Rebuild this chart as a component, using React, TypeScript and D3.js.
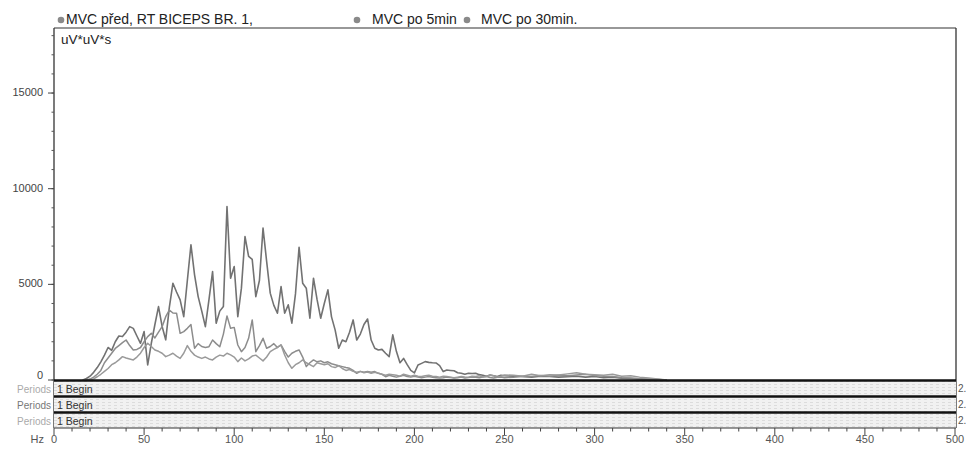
import React from "react";
import * as d3 from "d3";

const freqs: number[] = [
  16, 18, 20, 22, 24, 26, 28, 30, 32, 34, 36, 38, 40, 42, 44, 46, 48, 50, 52, 54,
  56, 58, 60, 62, 64, 66, 68, 70, 72, 74, 76, 78, 80, 82, 84, 86, 88, 90, 92, 94,
  96, 98, 100, 102, 104, 106, 108, 110, 112, 114, 116, 118, 120, 122, 124, 126, 128, 130, 132, 134,
  136, 138, 140, 142, 144, 146, 148, 150, 152, 154, 156, 158, 160, 162, 164, 166, 168, 170, 172, 174,
  176, 178, 180, 182, 184, 186, 188, 190, 192, 194, 196, 198, 200, 202, 204, 206, 208, 210, 212, 214,
  216, 218, 220, 222, 224, 226, 228, 230, 232, 234, 236, 238, 240, 242, 244, 246, 248, 250,
  255, 260, 265, 270, 275, 280, 285, 290, 295, 300, 305, 310, 315, 320, 325, 330, 335, 340,
];

const mvcPred: number[] = [
  0, 80, 200, 400, 650, 950, 1300, 1700, 1550, 2000, 2300, 2270, 2500, 2790, 2700, 2300, 1920, 2530, 785, 1920,
  2900, 3840, 2800, 2100, 3800, 5060, 4600, 4190, 3310, 5200, 7070, 5500, 4360, 3600, 2790, 4200, 5670, 2970, 3600, 3840,
  9070, 5320, 5930, 3310, 4800, 7500, 6460, 6300, 4360, 5200, 7940, 6200, 4540, 3900, 3490, 4880, 3490, 3930, 2970, 4500,
  6940, 5060, 4800, 3230, 5320, 4200, 3230, 4000, 4710, 3300, 2620, 1660, 2090, 2000, 2500, 3140, 2090, 2400, 2900, 3190,
  2090, 1660, 1570, 1600, 1400, 1220, 2360, 1500, 900, 1130, 800, 500, 370, 785, 870, 960, 920, 900, 890, 750,
  440, 520, 500, 480, 380, 350, 300, 350, 340, 350, 280, 250, 200, 260, 220, 180, 250, 220,
  200, 180, 150, 200, 180, 150, 170, 200, 150, 180, 120, 150, 100, 80, 60, 40, 20, 0,
];

const mvc5: number[] = [
  0, 0, 50, 150, 300, 500, 900, 1150, 1400, 1650, 1800, 1950, 2090, 1800, 1570, 1600, 1700, 2000, 2270, 2440,
  2200, 2500, 2790, 3310, 3660, 3500, 3490, 2440, 2530, 2700, 2900, 1660, 1900, 1750, 1700, 1740, 2090, 1900, 1740, 2400,
  3350, 2700, 2750, 1830, 1480, 1700, 2180, 3140, 1480, 1800, 2180, 1660, 1750, 1900, 1700, 1830, 1500, 1200, 1400, 1500,
  1570, 1200, 700, 900, 1050, 950, 1000, 900, 950, 850, 800, 750, 700, 650, 610, 500, 350, 450, 400, 450,
  400, 440, 350, 300, 170, 250, 200, 150, 200, 250, 180, 150, 200, 150, 120, 150, 180, 140, 120, 100,
  120, 150, 130, 100, 120, 150, 110, 130, 160, 140, 120, 150, 180, 130, 110, 140, 160, 120,
  150, 200, 180, 230, 200, 250, 220, 260, 300, 240, 200, 180, 120, 100, 70, 40, 20, 0,
];

const mvc30: number[] = [
  0, 0, 0, 60, 170, 300, 450, 600, 800, 900, 1050, 1220, 1150, 1100, 1050, 1200, 1400, 1700, 1920, 1750,
  1570, 1500, 1400, 1220, 1300, 1400, 1250, 1130, 1400, 1800, 1500, 1300, 1200, 1130, 1200, 1100, 1050, 1200, 1300, 1250,
  1400, 1310, 1200, 960, 1150, 1000, 1100, 1250, 1300, 1150, 1000, 1200, 1480, 1600, 1700, 1830, 1310, 900, 610, 800,
  900, 1050, 900, 800, 700, 900, 850, 800, 850, 700, 650, 750, 600, 500, 550, 450, 400, 450, 380, 420,
  350, 400, 350, 300, 250, 300, 280, 250, 200, 300, 250, 200, 250, 200, 180, 220, 250, 200, 180, 150,
  200, 180, 150, 120, 150, 180, 160, 150, 200, 180, 220, 160, 200, 250, 220, 150, 200, 260,
  250, 200, 300, 220, 280, 260, 320, 380, 300, 280, 250, 300, 200, 220, 150, 100, 50, 0,
];

const legendLabels: string[] = ["MVC před, RT BICEPS BR. 1,", "MVC po 5min", "MVC po 30min."];
const yTicks: number[] = [0, 5000, 10000, 15000];
const xTicks: number[] = [0, 50, 100, 150, 200, 250, 300, 350, 400, 450, 500];
const periodRows: string[] = ["1 Begin", "1 Begin", "1 Begin"];

const W = 968;
const H = 450;
const left = 54;
const right = 955;
const top = 28;
const zeroY = 380;
const rowH = 16;
const font = "'Liberation Sans', Arial, sans-serif";

export default function App() {
  const x = d3.scaleLinear().domain([0, 500]).range([left, right]);
  const y = d3.scaleLinear().domain([0, 18400]).range([zeroY, top]);
  const bottom = zeroY + rowH * 3;

  const mk = (vals: number[]) =>
    d3
      .line<number>()
      .x((_, i) => x(freqs[i]))
      .y((v) => y(v))(vals) || "";

  const series = [
    { vals: mvcPred, color: "#727272", w: 1.6 },
    { vals: mvc5, color: "#8c8c8c", w: 1.5 },
    { vals: mvc30, color: "#9a9a9a", w: 1.5 },
  ];

  const minorY = d3.range(0, 18001, 1000);
  const minorX = d3.range(0, 501, 10);

  const legendPos = [
    { dot: 61, text: 66 },
    { dot: 357, text: 372 },
    { dot: 467, text: 481 },
  ];

  return (
    <svg
      width={W}
      height={H}
      style={{ position: "absolute", left: 0, top: 0, background: "#fff" }}
      fontFamily={font}
    >
      <defs>
        <pattern id="hatch" width="6" height="3" patternUnits="userSpaceOnUse">
          <rect width="6" height="3" fill="#f1f1f1" />
          <rect width="3" height="1" fill="#dcdcdc" />
        </pattern>
      </defs>
      <rect width={W} height={H} fill="#fff" />

      {/* legend */}
      {legendLabels.map((l, i) => (
        <g key={l}>
          <circle cx={legendPos[i].dot} cy={20} r={3.3} fill="#8a8a8a" />
          <text x={legendPos[i].text} y={20} fontSize={14} fill="#222" dominantBaseline="middle">
            {l}
          </text>
        </g>
      ))}

      {/* frame */}
      <line x1={left} x2={right + 1} y1={top} y2={top} stroke="#333" strokeWidth={1.2} />
      <line x1={left} x2={left} y1={top} y2={bottom} stroke="#333" strokeWidth={1.3} />
      <line x1={right + 1} x2={right + 1} y1={top} y2={bottom} stroke="#333" strokeWidth={1.3} />

      <text x={61} y={40} fontSize={13.5} fill="#222" dominantBaseline="middle">
        uV*uV*s
      </text>

      {/* y axis ticks */}
      {minorY.map((v) => (
        <line key={"my" + v} x1={left - 2.5} x2={left} y1={y(v)} y2={y(v)} stroke="#555" strokeWidth={1} />
      ))}
      {yTicks.map((v) => (
        <g key={"y" + v}>
          <line x1={left - 6} x2={left} y1={y(v)} y2={y(v)} stroke="#444" strokeWidth={1} />
          <text x={43} y={y(v) - (v === 0 ? 4 : 0)} fontSize={11} fill="#444" textAnchor="end" dominantBaseline="middle">
            {v}
          </text>
        </g>
      ))}

      {/* series */}
      <g>
        {series.map((s, i) => (
          <path key={i} d={mk(s.vals)} fill="none" stroke={s.color} strokeWidth={s.w} strokeLinejoin="round" />
        ))}
      </g>

      {/* period rows */}
      {periodRows.map((p, i) => {
        const ry = zeroY + i * rowH;
        return (
          <g key={"p" + i}>
            <rect x={left} y={ry} width={right + 1 - left} height={rowH} fill="url(#hatch)" />
            <line x1={left} x2={right + 1} y1={ry + 0.5} y2={ry + 0.5} stroke="#111" strokeWidth={2.4} />
            <text x={51} y={ry + 10} fontSize={10} fill={i === 1 ? "#777" : "#aaa"} textAnchor="end" dominantBaseline="middle">
              Periods
            </text>
            <text x={57} y={ry + 10} fontSize={10.5} fill="#333" dominantBaseline="middle">
              {p}
            </text>
            <text x={958} y={ry + 9} fontSize={10} fill="#555" dominantBaseline="middle">
              2.
            </text>
          </g>
        );
      })}
      <line x1={left} x2={right + 1} y1={bottom} y2={bottom} stroke="#333" strokeWidth={1.2} />

      {/* x axis */}
      {minorX.map((v) => (
        <line key={"mx" + v} x1={x(v)} x2={x(v)} y1={bottom} y2={bottom + (v % 50 === 0 ? 7 : 3.5)} stroke="#444" strokeWidth={1} />
      ))}
      {xTicks.map((v) => (
        <text key={"x" + v} x={x(v)} y={440} fontSize={11} fill="#555" textAnchor="middle" dominantBaseline="middle">
          {v}
        </text>
      ))}
      <text x={44} y={440} fontSize={11} fill="#555" textAnchor="end" dominantBaseline="middle">
        Hz
      </text>
    </svg>
  );
}
